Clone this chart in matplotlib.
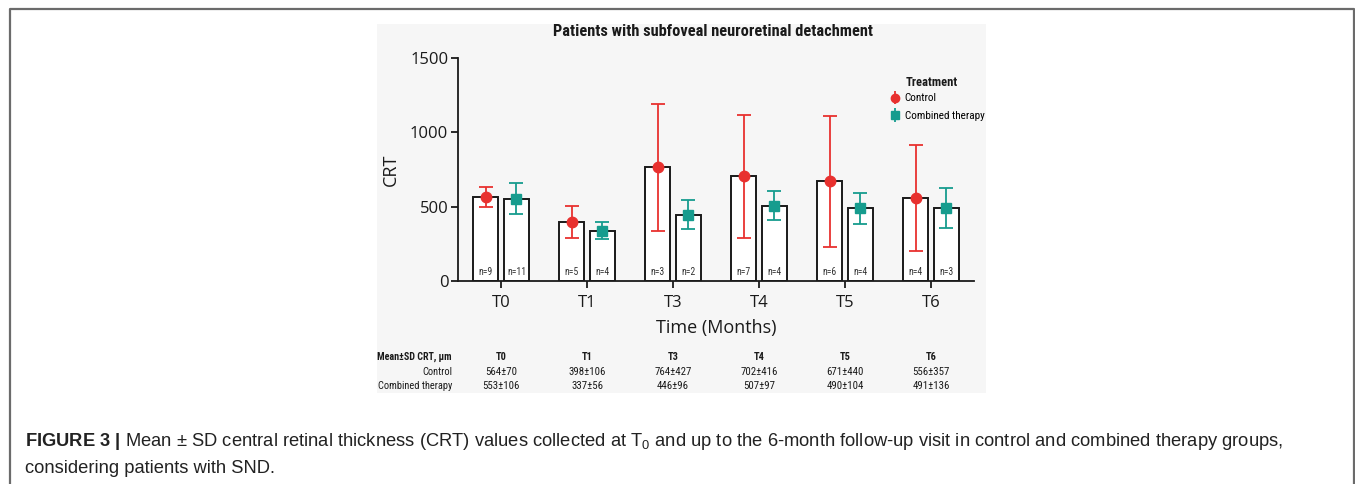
import matplotlib
matplotlib.use("Agg")
import matplotlib.pyplot as plt
from matplotlib import font_manager
from matplotlib.patches import Rectangle
from matplotlib.lines import Line2D
from matplotlib.container import ErrorbarContainer
from matplotlib.legend_handler import HandlerErrorbar
import numpy as np

# ---------------- data ----------------
categories = ["T0", "T1", "T3", "T4", "T5", "T6"]
control_mean = [564, 398, 764, 702, 671, 556]
control_sd = [70, 106, 427, 416, 440, 357]
combined_mean = [553, 337, 446, 507, 490, 491]
combined_sd = [106, 56, 96, 97, 104, 136]
control_n = [9, 5, 3, 7, 6, 4]
combined_n = [11, 4, 2, 4, 4, 3]
yticks = [0, 500, 1000, 1500]
series_names = ["Control", "Combined therapy"]

# ---------------- fonts ----------------
avail = {f.name for f in font_manager.fontManager.ttflist}
def pick(*names):
    for n in names:
        if n in avail:
            return n
    return "DejaVu Sans"
COND = pick("Liberation Sans Narrow", "DejaVu Sans Condensed", "Roboto Condensed", "DejaVu Sans")
REG = pick("Open Sans", "Noto Sans", "DejaVu Sans")
CAP = pick("Liberation Sans", "DejaVu Sans")

plt.rcParams["mathtext.fontset"] = "custom"
plt.rcParams["mathtext.rm"] = CAP
plt.rcParams["mathtext.bf"] = CAP + ":bold"
plt.rcParams["mathtext.it"] = CAP + ":italic"

RED = "#e8312f"
TEAL = "#169c8e"
INK = "#1a1a1a"

W, H = 1355, 484
fig = plt.figure(figsize=(W / 100, H / 100), dpi=100)
fig.patch.set_facecolor("white")

def px(x, y):
    return x / W, 1 - y / H

# panel background
x0, y0 = px(377, 393)
x1, y1 = px(986, 24)
fig.patches.append(Rectangle((x0, y0), x1 - x0, y1 - y0, transform=fig.transFigure,
                             facecolor="#f6f6f6", edgecolor="none", zorder=-5))

# outer border (left, top, right)
bx = [9.5, 9.5, 1353.5, 1353.5]
by = [484, 8.5, 8.5, 484]
fig.lines.append(Line2D([b / W for b in bx], [1 - b / H for b in by], transform=fig.transFigure,
                        color="#6b6b6b", lw=1.6, zorder=-4))

# axes
axl, axb = px(458, 281)
axr, axt = px(974, 57.7)
ax = fig.add_axes([axl, axb, axr - axl, axt - axb])
ax.set_zorder(2)
ax.set_facecolor("none")
ax.patch.set_alpha(0)

x = np.arange(len(categories))
off = 0.18
bw = 0.28
ax.bar(x - off, control_mean, width=bw, facecolor="white", edgecolor=INK, linewidth=1.4, zorder=2)
ax.bar(x + off, combined_mean, width=bw, facecolor="white", edgecolor=INK, linewidth=1.4, zorder=2)

eb1 = ax.errorbar(x - off, control_mean, yerr=control_sd, fmt="o", color=RED, ms=7.5, elinewidth=1.3,
                  capsize=5, capthick=1.3, zorder=4)
eb2 = ax.errorbar(x + off, combined_mean, yerr=combined_sd, fmt="s", color=TEAL, ms=7.5, elinewidth=1.3,
                  capsize=5, capthick=1.3, zorder=4)

for i in range(len(categories)):
    ax.text(x[i] - off, 30, f"n={control_n[i]}", ha="center", va="bottom", fontsize=7,
            family=COND, color="#333333", zorder=5)
    ax.text(x[i] + off, 30, f"n={combined_n[i]}", ha="center", va="bottom", fontsize=7,
            family=COND, color="#333333", zorder=5)

ax.set_xlim(-0.5, 5.5)
ax.set_ylim(0, 1500)
ax.set_yticks(yticks)
ax.set_xticks(x)
ax.set_xticklabels(categories)
for s in ["top", "right"]:
    ax.spines[s].set_visible(False)
for s in ["left", "bottom"]:
    ax.spines[s].set_linewidth(1.3)
    ax.spines[s].set_color(INK)
ax.tick_params(axis="both", length=5, width=1.3, color=INK, labelsize=12, pad=2)
for lab in ax.get_xticklabels() + ax.get_yticklabels():
    lab.set_family(REG)
    lab.set_color(INK)
ax.tick_params(axis="x", pad=5)
ax.set_ylabel("CRT", fontsize=13, family=REG, color=INK, labelpad=7)
ax.set_xlabel("Time (Months)", fontsize=13, family=REG, color=INK, labelpad=6)

# title
tx, ty = px(713, 32)
fig.text(tx, ty, "Patients with subfoveal neuroretinal detachment", ha="center", va="center",
         fontsize=11.8, fontweight="bold", family=COND, color=INK)

# legend
lx, ly = px(906, 83)
fig.text(lx, ly, "Treatment", ha="left", va="center", fontsize=9, fontweight="bold",
         family=COND, color=INK)
leg = ax.legend([eb1, eb2], series_names,
                handler_map={ErrorbarContainer: HandlerErrorbar(xerr_size=0.5, yerr_size=0.62, numpoints=1)},
                loc="upper left", bbox_to_anchor=px(889, 93.5), bbox_transform=fig.transFigure,
                frameon=False, prop={"family": COND, "size": 8}, handlelength=1.0,
                handletextpad=0.4, labelspacing=0.68, borderaxespad=0, borderpad=0,
                markerscale=0.8)
for ln in leg.findobj(Line2D):
    if ln.get_marker() in ("_", "|"):
        ln.set_visible(False)

# table beneath
hx = 452 / W
trans = matplotlib.transforms.blended_transform_factory(ax.transData, fig.transFigure)
rows_y = [1 - 357 / H, 1 - 372 / H, 1 - 386 / H]
fig.text(hx, rows_y[0], "Mean±SD CRT, μm", ha="right", va="center", fontsize=7.2,
         fontweight="bold", family=COND, color=INK)
fig.text(hx, rows_y[1], series_names[0], ha="right", va="center", fontsize=7.5,
         family=COND, color=INK)
fig.text(hx, rows_y[2], series_names[1], ha="right", va="center", fontsize=7.5,
         family=COND, color=INK)
for i, c in enumerate(categories):
    ax.text(x[i], rows_y[0], c, transform=trans, ha="center", va="center", fontsize=7.5,
            fontweight="bold", family=COND, color=INK)
    ax.text(x[i], rows_y[1], f"{control_mean[i]}±{control_sd[i]}", transform=trans, ha="center",
            va="center", fontsize=7.8, family=COND, color=INK)
    ax.text(x[i], rows_y[2], f"{combined_mean[i]}±{combined_sd[i]}", transform=trans, ha="center",
            va="center", fontsize=7.8, family=COND, color=INK)

# caption
cap1 = (r"$\mathbf{FIGURE\ 3\ |}$ Mean ± SD central retinal thickness (CRT) values collected at "
        r"T$_0$ and up to the 6-month follow-up visit in control and combined therapy groups,")
cap2 = "considering patients with SND."
fig.text(25 / W, 1 - 446 / H, cap1, ha="left", va="baseline", fontsize=13.2, family=CAP, color="#222222")
fig.text(25 / W, 1 - 473 / H, cap2, ha="left", va="baseline", fontsize=13.2, family=CAP, color="#222222")

fig.savefig("out.png", dpi=100, facecolor="white")
